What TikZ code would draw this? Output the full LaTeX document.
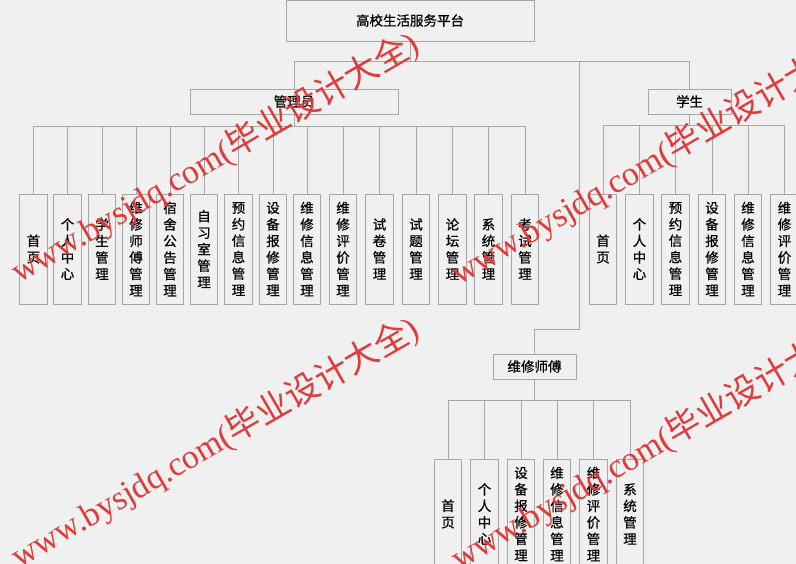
\documentclass[tikz,border=0pt]{standalone}
\usepackage{fontspec}
\setmainfont{Noto Sans CJK SC}
\newfontfamily\lbl[FakeBold=0.6]{Noto Sans CJK SC}
\newfontfamily\wmlatin{Liberation Serif}
\definecolor{bg}{HTML}{F0F0F0}
\definecolor{edge}{HTML}{A6A6A6}
\definecolor{mark}{HTML}{E03A3A}
\newcommand{\wmtext}{{\wmlatin www.bysjdq.com(}毕业设计大全{\wmlatin )}}
\tikzset{
  box/.style={draw=edge, fill=bg, line width=0.8pt, inner sep=0pt, font=\lbl\fontsize{13.5}{16.5}\selectfont},
  leaf/.style={box, minimum width=27.5pt, minimum height=110pt, align=center},
  link/.style={draw=edge, line width=0.8pt},
  wm/.style={text=mark, rotate=30, inner sep=0pt, font=\fontsize{34}{34}\selectfont}
}

\begin{document}
\begin{tikzpicture}[x=1pt,y=-1pt]
        \fill[bg] (0,0) rectangle (796,564);
        \useasboundingbox (0,0) rectangle (796,564);
        \clip (0,0) rectangle (796,564);
        %\draw[help lines, step=50] (0,0) grid (796,564);
        \node[box, minimum width=248pt, minimum height=41pt] (top) at (410,20.5) {高校生活服务平台};
        \node[box, minimum width=208pt, minimum height=25pt] (adm) at (294,101.5) {管理员};
        \node[box, minimum width=83pt, minimum height=25pt] (stu) at (689.5,101.5) {学生};
        \node[box, minimum width=83pt, minimum height=25pt] (rep) at (534.5,366.5) {维修师傅};
        \coordinate (bend) at (579,329);
        \draw[link] (top.south) -- ++(0,20) -| (adm.north);
        \draw[link] (top.south) -- ++(0,20) -| (stu.north);
        \draw[link] (top.south) -- ++(0,20) -| (bend) -| (rep.north);
        % admin
        \begin{scope}
            \foreach \x/\t [count=\i] in {33.5/{首\\页}, 67.5/{个\\人\\中\\心}, 102/{学\\生\\管\\理},
                136/{维\\修\\师\\傅\\管\\理}, 170/{宿\\舍\\公\\告\\管\\理}, 204/{自\\习\\室\\管\\理},
                238.5/{预\\约\\信\\息\\管\\理}, 273/{设\\备\\报\\修\\管\\理}, 307/{维\\修\\信\\息\\管\\理},
                343/{维\\修\\评\\价\\管\\理}, 379.5/{试\\卷\\管\\理}, 416/{试\\题\\管\\理},
                452.5/{论\\坛\\管\\理}, 488.5/{系\\统\\管\\理}, 525/{考\\试\\管\\理}}{
                \node[leaf] (a\i) at (\x,249) {\t};
                \draw[link] (adm.south) -- ++(0,12) -| (a\i.north);
            }
        \end{scope}
        % student
        \begin{scope}
            \foreach \x/\t [count=\i] in {603/{首\\页}, 639.5/{个\\人\\中\\心},
                675.5/{预\\约\\信\\息\\管\\理}, 712/{设\\备\\报\\修\\管\\理},
                748/{维\\修\\信\\息\\管\\理}, 784.5/{维\\修\\评\\价\\管\\理}}{
                \node[leaf] (s\i) at (\x,249) {\t};
                \draw[link] (stu.south) -- ++(0,11) -| (s\i.north);
            }
        \end{scope}
        % repairer
        \begin{scope}
            \foreach \x/\t [count=\i] in {448/{首\\页}, 484.5/{个\\人\\中\\心},
                521/{设\\备\\报\\修\\管\\理}, 557/{维\\修\\信\\息\\管\\理},
                593.5/{维\\修\\评\\价\\管\\理}, 630/{系\\统\\管\\理}}{
                \node[leaf] (r\i) at (\x,514) {\t};
                \draw[link] (rep.south) -- ++(0,21) -| (r\i.north);
            }
        \end{scope}
        % watermark
        \node[wm] (w1) at (215,158) {\wmtext};
        \node[wm] (w2) at (655,160) {\wmtext};
        \node[wm] (w3) at (215,443) {\wmtext};
        \node[wm] (w4) at (655,445) {\wmtext};
    \end{tikzpicture}
\end{document}
